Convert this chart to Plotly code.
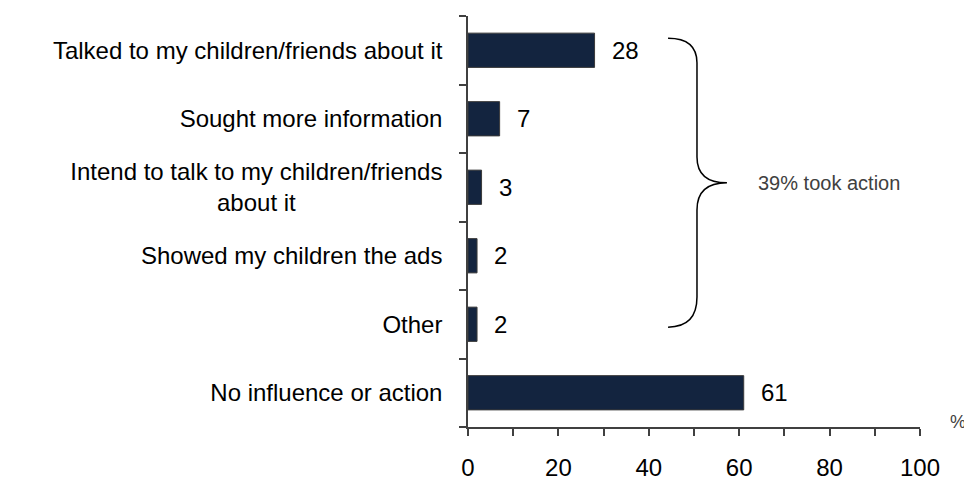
import plotly.graph_objects as go

categories = [
    "Talked to my children/friends about it",
    "Sought more information",
    "Intend to talk to my children/friends<br>about it" + "\u00a0" * 22,
    "Showed my children the ads",
    "Other",
    "No influence or action",
]
values = [28, 7, 3, 2, 2, 61]
x_tickvals = [0, 10, 20, 30, 40, 50, 60, 70, 80, 90, 100]
x_ticktext = ["0", "", "20", "", "40", "", "60", "", "80", "", "100"]
brace_label = "39% took action"
unit_label = "%"

FONT = "Liberation Sans, Arial, sans-serif"
BAR = "#13243f"
GREY = "#404040"

fig = go.Figure()
fig.add_trace(go.Bar(
    x=values, y=list(range(len(categories))), orientation="h",
    width=0.5,
    marker=dict(color=BAR, line=dict(color="#3a3a3a", width=1)),
    hoverinfo="skip",
))

for i, v in enumerate(values):
    fig.add_annotation(x=v, y=i, xref="x", yref="y", text=str(v),
                       showarrow=False, xanchor="left", yanchor="middle",
                       xshift=15, font=dict(family=FONT, size=24, color="black"))

# brace (paper coordinates)
xl, xm, xt = 0.4426, 0.5066, 0.5729
yt, yt2, ym1, ym, ym2, yb2, yb = 0.946, 0.886, 0.657, 0.594, 0.528, 0.316, 0.243
path = (f"M {xl},{yt} Q {xm},{yt} {xm},{yt2} L {xm},{ym1} "
        f"Q {xm},{ym} {xt},{ym} Q {xm},{ym} {xm},{ym2} L {xm},{yb2} "
        f"Q {xm},{yb} {xl},{yb}")
fig.add_shape(type="path", path=path, xref="paper", yref="paper",
              line=dict(color="black", width=1.5))

fig.add_annotation(x=0.637, y=0.594, xref="paper", yref="paper", text=brace_label,
                   showarrow=False, xanchor="left", yanchor="middle",
                   font=dict(family=FONT, size=20, color=GREY))
fig.add_annotation(x=1.061, y=0.012, xref="paper", yref="paper", text=unit_label,
                   showarrow=False, xanchor="left", yanchor="middle",
                   font=dict(family=FONT, size=18, color=GREY))

fig.update_layout(
    width=972, height=481,
    margin=dict(l=459.7, r=59.7, t=8, b=62, pad=0, autoexpand=False),
    plot_bgcolor="white", paper_bgcolor="white",
    showlegend=False,
    font=dict(family=FONT, size=24, color="black"),
    xaxis=dict(range=[0, 100], tickvals=x_tickvals, ticktext=x_ticktext,
               automargin=False,
               showgrid=False, zeroline=False, showline=True, linecolor=GREY,
               linewidth=1.5, ticks="outside", ticklen=7, tickwidth=1.5,
               tickcolor=GREY, ticklabelstandoff=11,
               tickfont=dict(family=FONT, size=24, color="black")),
    yaxis=dict(range=[5.5, -0.5], tickvals=list(range(len(categories))),
               ticktext=categories, showgrid=False, zeroline=False,
               automargin=False,
               showline=True, linecolor=GREY, linewidth=1.5,
               ticks="", ticklen=7, tickwidth=1.5, tickcolor=GREY,
               ticklabelstandoff=19,
               minor=dict(tickvals=[-0.5, 0.5, 1.5, 2.5, 3.5, 4.5, 5.5],
                          ticks="outside", ticklen=7, tickwidth=1.5,
                          tickcolor=GREY),
               tickfont=dict(family=FONT, size=24, color="black")),
)

fig.write_html("out.html")
